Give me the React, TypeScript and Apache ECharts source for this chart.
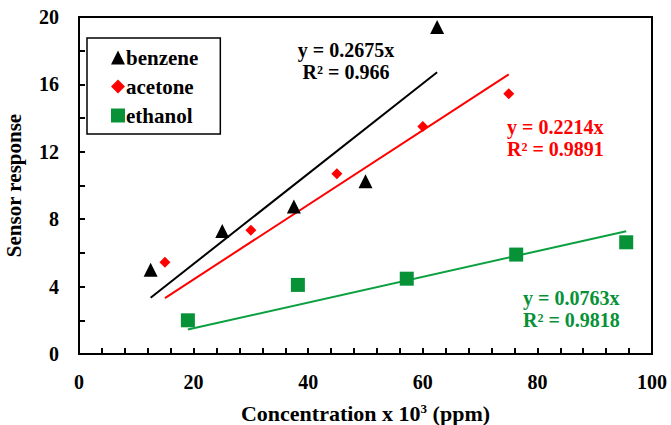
import React, { useEffect, useRef } from "react";
import * as echarts from "echarts";

const benzene: [number, number][] = [
  [12.5, 5.0],
  [25, 7.3],
  [37.5, 8.75],
  [50, 10.25],
  [62.5, 19.4],
];
const acetone: [number, number][] = [
  [15, 5.45],
  [30, 7.35],
  [45, 10.7],
  [60, 13.5],
  [75, 15.45],
];
const ethanol: [number, number][] = [
  [19, 2.0],
  [38.2, 4.1],
  [57.2, 4.47],
  [76.3, 5.9],
  [95.5, 6.63],
];
const benzeneFit: [number, number][] = [
  [12.5, 3.34],
  [62.5, 16.72],
];
const acetoneFit: [number, number][] = [
  [15, 3.32],
  [75, 16.6],
];
const ethanolFit: [number, number][] = [
  [19, 1.45],
  [95.5, 7.29],
];
const seriesNames = ["benzene", "acetone", "ethanol"];
const equations = [
  ["y = 0.2675x", "R\u00b2 = 0.966"],
  ["y = 0.2214x", "R\u00b2 = 0.9891"],
  ["y = 0.0763x", "R\u00b2 = 0.9818"],
];

const BLACK = "#000000";
const RED = "#ff0000";
const GREEN = "#079238";
const FONT = "Liberation Serif";

export default function App() {
  const ref = useRef<HTMLDivElement>(null);
  useEffect(() => {
    if (!ref.current) return;
    const chart = echarts.init(ref.current, undefined, { renderer: "svg" });
    const axisCommon = {
      axisLine: { show: true, lineStyle: { color: "#000", width: 2 } },
      axisTick: { show: true, inside: true, length: 6, lineStyle: { color: "#000", width: 2 } },
      minorTick: { show: true, length: 6, lineStyle: { color: "#000", width: 2 } },
      splitLine: { show: false },
      axisLabel: { color: "#000", fontFamily: FONT, fontWeight: "bold", fontSize: 20 },
    };
    const txt = (x: number, y: number, text: string, color: string, align = "left") => ({
      type: "text",
      x,
      y,
      style: {
        text,
        fill: color,
        fontFamily: FONT,
        fontWeight: "bold",
        fontSize: 20,
        align,
        verticalAlign: "middle",
      },
    });
    chart.setOption({
      animation: false,
      textStyle: { fontFamily: FONT },
      grid: {
        left: 79,
        right: 19,
        top: 17,
        bottom: 71,
        show: true,
        borderColor: "#000",
        borderWidth: 2,
        containLabel: false,
        outerBoundsMode: "none",
      },
      xAxis: {
        type: "value",
        min: 0,
        max: 100,
        interval: 20,
        ...axisCommon,
        minorTick: { ...axisCommon.minorTick, splitNumber: 5 },
        axisLabel: { ...axisCommon.axisLabel, margin: 18 },
        name: "Concentration x 10{sup|3} (ppm)",
        nameLocation: "middle",
        nameGap: 48,
        nameTextStyle: {
          color: "#000",
          fontFamily: FONT,
          fontWeight: "bold",
          fontSize: 22,
          rich: {
            sup: {
              fontFamily: FONT,
              fontWeight: "bold",
              fontSize: 13,
              verticalAlign: "top",
              padding: [0, 0, 10, 0],
              color: "#000",
            },
          },
        },
      },
      yAxis: {
        type: "value",
        min: 0,
        max: 20,
        interval: 4,
        ...axisCommon,
        minorTick: { ...axisCommon.minorTick, splitNumber: 2 },
        axisLabel: { ...axisCommon.axisLabel, margin: 20 },
        name: "Sensor response",
        nameLocation: "middle",
        nameGap: 55,
        nameTextStyle: {
          color: "#000",
          fontFamily: FONT,
          fontWeight: "bold",
          fontSize: 21,
        },
      },
      legend: {
        data: seriesNames,
        orient: "vertical",
        left: 87,
        top: 38,
        width: 133,
        padding: [9, 22, 8, 24],
        itemGap: 8,
        itemWidth: 14,
        itemHeight: 14,
        borderColor: "#000",
        borderWidth: 1.5,
        backgroundColor: "#fff",
        textStyle: { color: "#000", fontFamily: FONT, fontWeight: "bold", fontSize: 21, padding: [0, 0, 0, -4] },
      },
      series: [
        {
          name: seriesNames[0],
          type: "scatter",
          data: benzene,
          symbol: "triangle",
          symbolSize: 14,
          itemStyle: { color: BLACK, opacity: 1 },
          z: 3,
        },
        {
          name: seriesNames[1],
          type: "scatter",
          data: acetone,
          symbol: "diamond",
          symbolSize: 11,
          itemStyle: { color: RED, opacity: 1 },
          z: 3,
        },
        {
          name: seriesNames[2],
          type: "scatter",
          data: ethanol,
          symbol: "rect",
          symbolSize: 14,
          itemStyle: { color: GREEN, opacity: 1 },
          z: 3,
        },
        {
          name: "benzeneFit",
          type: "line",
          data: benzeneFit,
          showSymbol: false,
          symbol: "none",
          lineStyle: { color: BLACK, width: 2 },
          z: 2,
        },
        {
          name: "acetoneFit",
          type: "line",
          data: acetoneFit,
          showSymbol: false,
          symbol: "none",
          lineStyle: { color: RED, width: 2 },
          z: 2,
        },
        {
          name: "ethanolFit",
          type: "line",
          data: ethanolFit,
          showSymbol: false,
          symbol: "none",
          lineStyle: { color: "#0aa040", width: 2 },
          z: 2,
        },
      ],
      graphic: [
        txt(346, 50, equations[0][0], BLACK, "center"),
        txt(346, 72, equations[0][1], BLACK, "center"),
        txt(507, 127, equations[1][0], RED),
        txt(507, 149, equations[1][1], RED),
        txt(523, 298, equations[2][0], GREEN),
        txt(523, 320, equations[2][1], GREEN),
      ],
    });
    return () => chart.dispose();
  }, []);
  return <div ref={ref} style={{ width: 671, height: 425, position: "absolute", left: 0, top: 0 }} />;
}
